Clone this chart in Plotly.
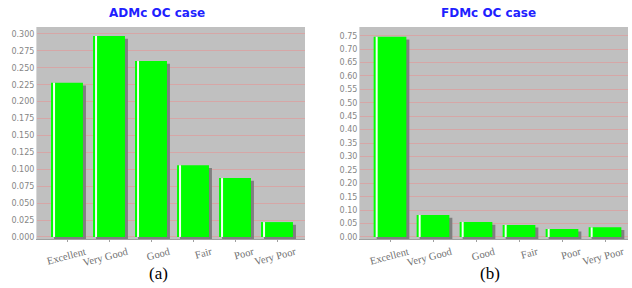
import plotly.graph_objects as go

categories = ["Excellent", "Very Good", "Good", "Fair", "Poor", "Very Poor"]
admc_values = [0.228, 0.297, 0.260, 0.106, 0.087, 0.022]
fdmc_values = [0.746, 0.082, 0.056, 0.045, 0.030, 0.036]
admc_ticks = [i * 0.025 for i in range(13)]
fdmc_ticks = [i * 0.05 for i in range(16)]

W, H = 632, 288
fig = go.Figure()

BW = 0.76
GREEN = "#00ff00"
SHADOW = "#7f7f7f"

def add_chart(vals, xa, ya, shadow_base, px_unit):
    # shadow
    fig.add_trace(go.Bar(x=categories, y=vals, base=shadow_base, width=BW,
                         offset=-BW / 2 + 3 * px_unit, marker=dict(color=SHADOW, line=dict(width=0)),
                         xaxis=xa, yaxis=ya, hoverinfo="skip"))
    # main bar
    fig.add_trace(go.Bar(x=categories, y=vals, width=BW, offset=-BW / 2,
                         marker=dict(color=GREEN, line=dict(width=0)),
                         xaxis=xa, yaxis=ya))
    # white highlight stripe
    fig.add_trace(go.Bar(x=categories, y=vals, width=2 * px_unit, offset=-BW / 2 + 2 * px_unit,
                         marker=dict(color="#f4fff4", line=dict(width=0)),
                         xaxis=xa, yaxis=ya, hoverinfo="skip"))

add_chart(admc_values, "x", "y", -0.004, 1 / 42)
add_chart(fdmc_values, "x2", "y2", -0.01, 1 / 43)

ydom = [1 - 239 / H, 1 - 27 / H]
tickfont = dict(family="DejaVu Sans", size=8, color="#858585")
catfont = dict(family="Liberation Serif", size=10.5, color="#707070")
common_y = dict(showgrid=True, gridcolor="#d6a6a6", gridwidth=1, zeroline=False,
                showline=True, linecolor="#d8d8d8", linewidth=1, ticks="", tickfont=tickfont,
                automargin=False)
common_x = dict(showgrid=False, zeroline=False, showline=True, linecolor="#a0a0a0",
                linewidth=1, ticks="outside", ticklen=2, tickcolor="#a0a0a0",
                tickangle=-15, tickfont=catfont, type="category", automargin=False,
                ticklabelshift=18, ticklabelstandoff=0)

fig.update_layout(
    width=W, height=H, margin=dict(l=0, r=0, t=0, b=0, autoexpand=False),
    paper_bgcolor="white", plot_bgcolor="#c0c0c0",
    barmode="overlay", showlegend=False,
    xaxis=dict(domain=[37 / W, 305 / W], range=[-30 / 42, 238 / 42], anchor="y", **common_x),
    yaxis=dict(domain=ydom, range=[-0.003, 0.3103], anchor="x", tickvals=admc_ticks,
               ticktext=[f"{v:.3f}" for v in admc_ticks], **common_y),
    xaxis2=dict(domain=[360 / W, 628 / W], range=[-30 / 43, 238 / 43], anchor="y2", **common_x),
    yaxis2=dict(domain=ydom, range=[-0.0075, 0.7824], anchor="x2", tickvals=fdmc_ticks,
                ticktext=[f"{v:.2f}" for v in fdmc_ticks], **common_y),
)

titlefont = dict(family="DejaVu Sans", size=12, color="#1f1fff")
fig.add_annotation(text="<b>ADMc OC case</b>", x=157 / W, y=1 - 13 / H, xref="paper", yref="paper",
                   showarrow=False, font=titlefont, xanchor="center", yanchor="middle")
fig.add_annotation(text="<b>FDMc OC case</b>", x=488 / W, y=1 - 13 / H, xref="paper", yref="paper",
                   showarrow=False, font=titlefont, xanchor="center", yanchor="middle")
labfont = dict(family="Liberation Serif", size=17, color="black")
fig.add_annotation(text="(a)", x=158 / W, y=1 - 273 / H, xref="paper", yref="paper",
                   showarrow=False, font=labfont, xanchor="center", yanchor="middle")
fig.add_annotation(text="(b)", x=490 / W, y=1 - 273 / H, xref="paper", yref="paper",
                   showarrow=False, font=labfont, xanchor="center", yanchor="middle")

fig.write_html("out.html", config={"displayModeBar": False},
               post_script="document.body.style.margin='0';document.body.style.overflow='hidden';")
